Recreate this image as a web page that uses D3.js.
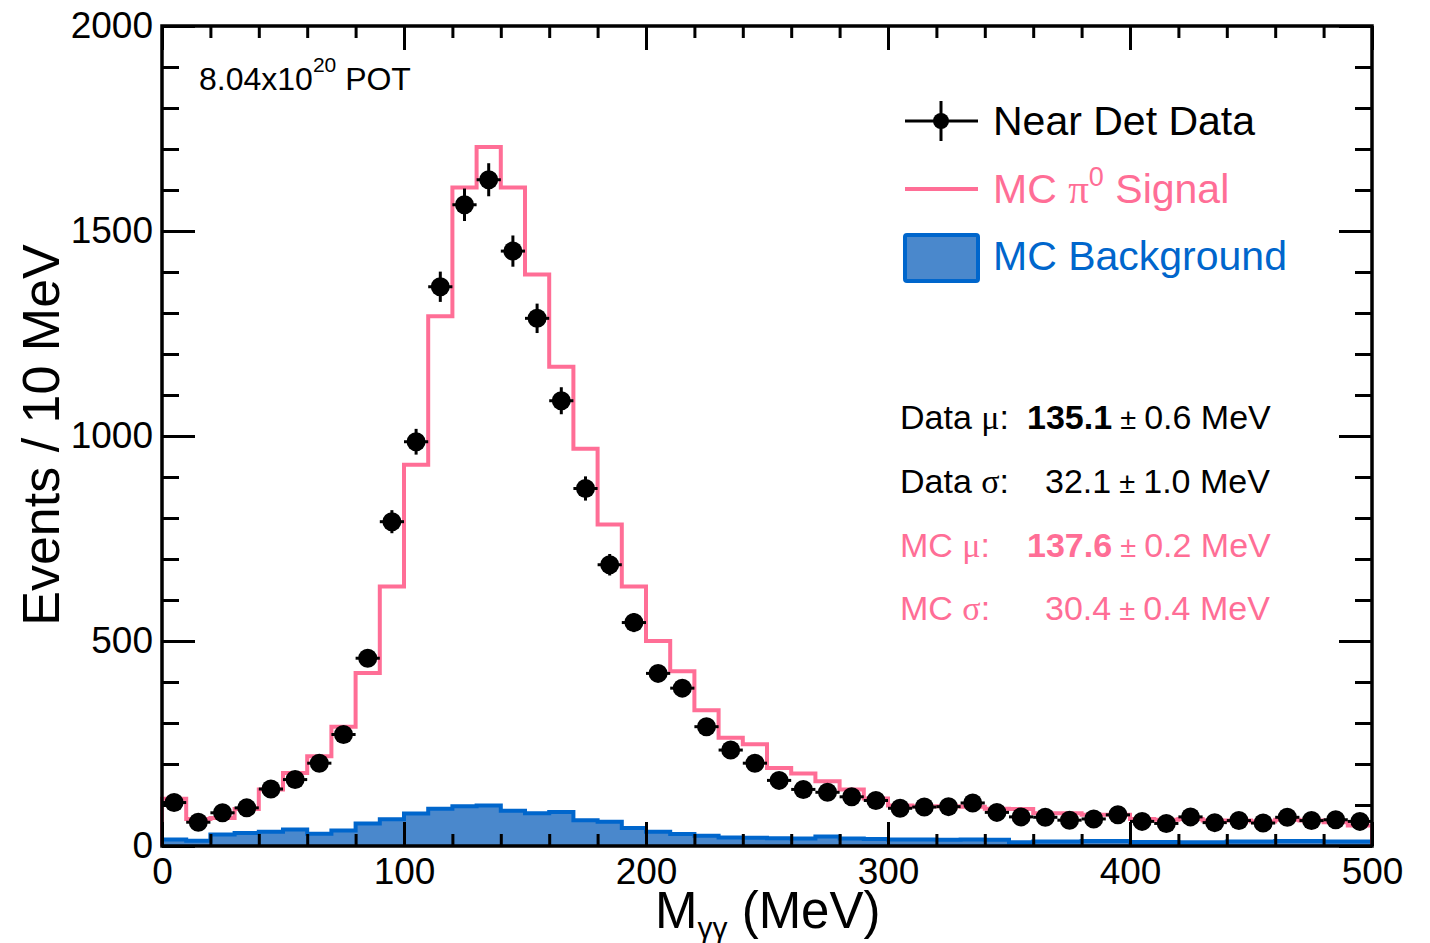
<!DOCTYPE html>
<meta charset="utf-8">
<body style="margin:0;background:#fff">
<style>
text { font-family: "Liberation Sans", Arial, Helvetica, sans-serif; }
.axis path.domain { display: none; }
.axis line { stroke: #000; stroke-width: 3px; }
.axis text { font-size: 37px; fill: #000; }
.serif { font-family: "Liberation Serif", "Times New Roman", serif; }
</style>
<script src="https://cdn.jsdelivr.net/npm/d3@7"></script>
<script>

// bins of 10 MeV, lower edges
var binLow = [0,10,20,30,40,50,60,70,80,90,100,110,120,130,140,150,160,170,180,190,
              200,210,220,230,240,250,260,270,280,290,300,310,320,330,340,350,360,370,380,390,
              400,410,420,430,440,450,460,470,480,490];
var binWidth = 10;

var dataCounts = [106,58,81,93,139,162,202,272,458,791,986,1364,1564,1625,1451,1287,1086,872,686,545,
                  421,385,291,234,202,160,138,131,120,111,92,95,96,105,82,71,70,63,66,76,
                  60,55,71,57,62,56,70,62,64,60];

var signalMC = [115,66,68,90,138,178,219,291,422,633,930,1292,1606,1705,1606,1394,1169,969,784,633,
                500,426,331,264,248,190,177,158,138,116,99,97,97,96,91,90,80,80,76,76,
                66,64,66,62,62,60,64,62,58,50];

var backgroundMC = [16,13,28,32,35,40,30,38,55,65,79,91,97,99,86,80,83,63,59,44,
                    35,29,25,21,20,19,18,23,18,17,16,16,15,16,15,9,11,11,12,12,
                    10,10,9,9,11,11,12,12,11,11];

var xMajor = [0,100,200,300,400,500];
var xMinor = [20,40,60,80,120,140,160,180,220,240,260,280,320,340,360,380,420,440,460,480];
var yMajor = [0,500,1000,1500,2000];
var yMinor = [100,200,300,400,600,700,800,900,1100,1200,1300,1400,1600,1700,1800,1900];

var statRows = [
  {label: "Data ", sym: "\u03bc", val: "135.1", err: "0.6 MeV", bold: true, mc: false},
  {label: "Data ", sym: "\u03c3", val: "32.1", err: "1.0 MeV", bold: false, mc: false},
  {label: "MC ", sym: "\u03bc", val: "137.6", err: "0.2 MeV", bold: true, mc: true},
  {label: "MC ", sym: "\u03c3", val: "30.4", err: "0.4 MeV", bold: false, mc: true}
];

var pink = "#ff6e96", blueLine = "#0066cc", blueFill = "#4a88cc";

var W = 1430, H = 943;
var x = d3.scaleLinear().domain([0, 500]).range([162, 1372]);
var y = d3.scaleLinear().domain([0, 2000]).range([846, 26]);

var svg = d3.select("body").append("svg")
    .attr("width", W)
    .attr("height", H);

svg.append("rect").attr("width", W).attr("height", H).attr("fill", "#fff");

function stepPoints(vals) {
  var pts = [[binLow[0], 0]];
  vals.forEach(function(v, i) {
    pts.push([binLow[i], v]);
    pts.push([binLow[i] + binWidth, v]);
  });
  pts.push([binLow[binLow.length - 1] + binWidth, 0]);
  return pts;
}

var line = d3.line()
    .x(function(d) { return x(d[0]); })
    .y(function(d) { return y(d[1]); });

// background MC, filled
var bgPts = stepPoints(backgroundMC);
svg.append("path")
    .attr("d", d3.area()
      .x(function(d) { return x(d[0]); })
      .y0(y(0))
      .y1(function(d) { return y(d[1]); })(bgPts))
    .attr("fill", blueFill);
svg.append("path")
    .attr("d", line(bgPts))
    .attr("fill", "none")
    .attr("stroke", blueLine)
    .attr("stroke-width", 4);

// signal MC
svg.append("path")
    .attr("d", line(stepPoints(signalMC)))
    .attr("fill", "none")
    .attr("stroke", pink)
    .attr("stroke-width", 4);

// axes, ticks inside
svg.append("g").attr("class", "axis").attr("transform", "translate(0,846)")
    .call(d3.axisBottom(x).tickValues(xMajor).tickSize(-24).tickPadding(12).tickFormat(d3.format("d")));
svg.append("g").attr("class", "axis").attr("transform", "translate(0,846)")
    .call(d3.axisBottom(x).tickValues(xMinor).tickSize(-12).tickFormat(""));
svg.append("g").attr("class", "axis").attr("transform", "translate(0,26)")
    .call(d3.axisTop(x).tickValues(xMajor).tickSize(-24).tickFormat(""));
svg.append("g").attr("class", "axis").attr("transform", "translate(0,26)")
    .call(d3.axisTop(x).tickValues(xMinor).tickSize(-12).tickFormat(""));

svg.append("g").attr("class", "axis").attr("transform", "translate(162,0)")
    .call(d3.axisLeft(y).tickValues(yMajor).tickSize(-33).tickPadding(9).tickFormat(d3.format("d")));
svg.append("g").attr("class", "axis").attr("transform", "translate(162,0)")
    .call(d3.axisLeft(y).tickValues(yMinor).tickSize(-17).tickFormat(""));
svg.append("g").attr("class", "axis").attr("transform", "translate(1372,0)")
    .call(d3.axisRight(y).tickValues(yMajor).tickSize(-33).tickFormat(""));
svg.append("g").attr("class", "axis").attr("transform", "translate(1372,0)")
    .call(d3.axisRight(y).tickValues(yMinor).tickSize(-17).tickFormat(""));

// data points with errors
var pts = svg.append("g").selectAll("g")
    .data(dataCounts)
  .enter().append("g");
pts.append("line")
    .attr("x1", function(d, i) { return x(binLow[i]); })
    .attr("x2", function(d, i) { return x(binLow[i] + binWidth); })
    .attr("y1", function(d) { return y(d); })
    .attr("y2", function(d) { return y(d); })
    .attr("stroke", "#000").attr("stroke-width", 3);
pts.append("line")
    .attr("x1", function(d, i) { return x(binLow[i] + binWidth / 2); })
    .attr("x2", function(d, i) { return x(binLow[i] + binWidth / 2); })
    .attr("y1", function(d) { return y(d - Math.sqrt(d)); })
    .attr("y2", function(d) { return y(d + Math.sqrt(d)); })
    .attr("stroke", "#000").attr("stroke-width", 3);
pts.append("circle")
    .attr("cx", function(d, i) { return x(binLow[i] + binWidth / 2); })
    .attr("cy", function(d) { return y(d); })
    .attr("r", 9.5)
    .attr("fill", "#000");

// frame
svg.append("rect")
    .attr("x", 162).attr("y", 26)
    .attr("width", 1210).attr("height", 820)
    .attr("fill", "none")
    .attr("stroke", "#000")
    .attr("stroke-width", 3.5);

// axis titles
svg.append("text")
    .attr("transform", "translate(59,435) rotate(-90)")
    .attr("text-anchor", "middle")
    .attr("font-size", 52)
    .text("Events / 10 MeV");

var xt = svg.append("text")
    .attr("x", 655).attr("y", 928)
    .attr("font-size", 51);
xt.append("tspan").text("M");
xt.append("tspan").attr("font-size", 30).attr("dy", 10).text("\u03b3\u03b3");
xt.append("tspan").attr("dy", -10).text(" (MeV)");

// POT label
var pot = svg.append("text").attr("x", 199).attr("y", 90).attr("font-size", 32);
pot.append("tspan").text("8.04x10");
pot.append("tspan").attr("font-size", 21).attr("dy", -18).text("20");
pot.append("tspan").attr("dy", 18).text(" POT");

// legend
var lg = svg.append("g");
lg.append("line").attr("x1", 905).attr("x2", 978).attr("y1", 121).attr("y2", 121)
    .attr("stroke", "#000").attr("stroke-width", 3);
lg.append("line").attr("x1", 941).attr("x2", 941).attr("y1", 101).attr("y2", 141)
    .attr("stroke", "#000").attr("stroke-width", 3);
lg.append("circle").attr("cx", 941).attr("cy", 121).attr("r", 8).attr("fill", "#000");
lg.append("text").attr("x", 993).attr("y", 135).attr("font-size", 41).text("Near Det Data");

lg.append("line").attr("x1", 905).attr("x2", 978).attr("y1", 189).attr("y2", 189)
    .attr("stroke", pink).attr("stroke-width", 4);
var sigT = lg.append("text").attr("x", 993).attr("y", 203).attr("font-size", 41).attr("fill", pink);
sigT.append("tspan").text("MC ");
sigT.append("tspan").attr("class", "serif").text("\u03c0");
sigT.append("tspan").attr("font-size", 27).attr("dy", -17).text("0");
sigT.append("tspan").attr("dy", 17).text(" Signal");

lg.append("rect").attr("x", 905).attr("y", 235).attr("width", 73).attr("height", 46)
    .attr("rx", 2)
    .attr("fill", blueFill).attr("stroke", blueLine).attr("stroke-width", 4);
lg.append("text").attr("x", 993).attr("y", 270).attr("font-size", 41).attr("fill", blueLine)
    .text("MC Background");

// fit results
var rowY = [429, 493, 557, 620];
statRows.forEach(function(r, i) {
  var t = svg.append("text").attr("y", rowY[i]).attr("font-size", 34)
      .attr("fill", r.mc ? pink : "#000");
  t.append("tspan").attr("x", 900).text(r.label);
  t.append("tspan").attr("class", "serif").text(r.sym);
  t.append("tspan").text(":");
  t.append("tspan").attr("x", r.bold ? 1027 : 1045)
      .attr("font-weight", r.bold ? "bold" : "normal").text(r.val);
  t.append("tspan").attr("font-size", 29).text(" \u00b1 ");
  t.append("tspan").text(r.err);
});

</script>
